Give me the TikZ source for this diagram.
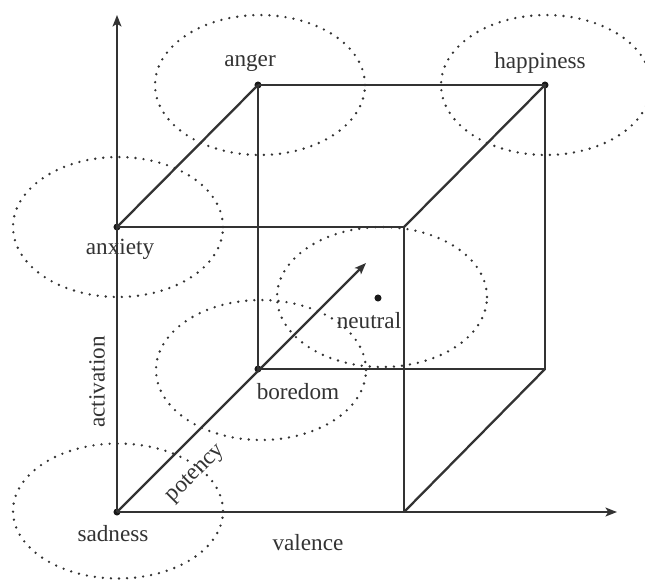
\documentclass[tikz,border=0pt]{standalone}
\usepackage{fontspec}
\setmainfont{Liberation Serif}
\usetikzlibrary{arrows.meta, positioning}

\begin{document}
\begin{tikzpicture}[x=0.02cm, y=-0.02cm, >={Stealth[length=6.5pt, width=5pt, inset=1.5pt]},
    font=\fontsize{13.2}{15}\selectfont, text=black!80,
    corner/.style={circle, fill=black!90, inner sep=0pt, minimum size=4pt},
    edge/.style={draw=black!80, line width=1.3pt},
    zone/.style={draw=black!80, line width=1.5pt, line cap=round, dash pattern=on 0pt off 4.6pt}]
  \useasboundingbox (0,0) rectangle (645,579);

  % emotion regions
  \draw [zone] (260,85) ellipse [x radius=2.1cm, y radius=1.4cm];
  \draw [zone] (546,85) ellipse [x radius=2.1cm, y radius=1.4cm];
  \draw [zone] (118,227) ellipse [x radius=2.1cm, y radius=1.4cm];
  \draw [zone] (382,297) ellipse [x radius=2.1cm, y radius=1.4cm];
  \draw [zone] (261,370) ellipse [x radius=2.1cm, y radius=1.4cm];
  \draw [zone] (118,511) ellipse [x radius=2.1cm, y radius=1.35cm];

  % cube corners
  \node [corner] (sadness) at (117,512) {};
  \node [corner] (anxiety) at (117,227) {};
  \node [corner] (anger) at (258,85) {};
  \node [corner] (happiness) at (545,85) {};
  \node [corner] (boredom) at (258,369) {};
  \node [corner] (neutral) at (378,298) {};
  \coordinate (fronttop) at (404,227);
  \coordinate (frontbot) at (404,512);
  \coordinate (backbot) at (545,369);

  % axis ends
  \coordinate (acttip) at (117,15);
  \coordinate (valtip) at (617,512);
  \coordinate (pottip) at (366,263);

  \draw [edge, ->] (sadness.center) -- (acttip);
  \draw [edge, ->] (sadness.center) -- (valtip);
  \draw [edge, ->] (sadness.center) -- (pottip);

  \draw [edge] (anxiety.center) -- (fronttop) -- (frontbot);
  \draw [edge] (anxiety.center) -- (anger.center);
  \draw [edge] (fronttop) -- (happiness.center);
  \draw [edge] (frontbot) -- (backbot);
  \draw [edge] (anger.center) -- (happiness.center) -- (backbot) -- (boredom.center) -- (anger.center);

  % labels
  \node (angerlbl) at (250,63) {anger};
  \node (happylbl) at (540,63) {happiness};
  \node (anxietylbl) at (120,249) {anxiety};
  \node (neutrallbl) at (369,321) {neutral};
  \node (boredomlbl) at (298,392) {boredom};
  \node (sadnesslbl) at (113,534) {sadness};
  \node (valencelbl) at (308,543) {valence};
  \node [rotate=90] (activationlbl) at (97,382) {activation};
  \node [rotate=45] (potencylbl) at (196,474) {potency};
\end{tikzpicture}
\end{document}
